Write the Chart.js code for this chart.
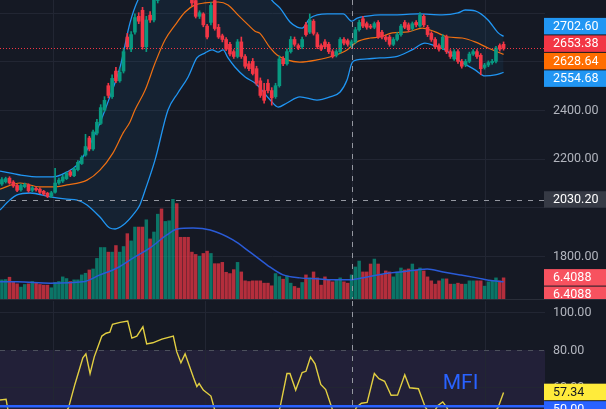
<!DOCTYPE html>
<html><head><meta charset="utf-8">
<script src="https://cdn.jsdelivr.net/npm/chart.js@4.4.0/dist/chart.umd.min.js"></script>
<style>
html,body{margin:0;padding:0;background:#151924;width:606px;height:409px;overflow:hidden}
#c1{position:absolute;left:0;top:0}
#sep{position:absolute;left:0;top:299px;width:606px;height:1px;background:#2a2e39}
#c2{position:absolute;left:0;top:301px}
</style></head><body>
<canvas id="c1" width="606" height="299"></canvas>
<div id="sep"></div>
<canvas id="c2" width="606" height="108"></canvas>
<script>
// ---------- DATA ----------
const opens =[2096,2105,2120,2104,2090,2072,2085,2092,2070,2078,2075,2066,2058,2046,2062,2100,2108,2118,2146,2130,2155,2180,2215,2285,2240,2305,2345,2400,2500,2455,2560,2520,2560,2700,2650,2720,2785,2810,2660,2790,2770,2850,2910,2880,2925,2950,2990,2935,2905,2890,2870,2850,2785,2795,2745,2760,2850,2740,2705,2690,2670,2640,2620,2680,2620,2590,2600,2570,2520,2480,2510,2480,2455,2500,2610,2590,2640,2690,2665,2660,2750,2720,2765,2710,2665,2680,2670,2640,2625,2640,2690,2685,2665,2680,2730,2775,2755,2745,2740,2760,2720,2700,2700,2670,2690,2710,2760,2750,2735,2760,2745,2785,2740,2715,2690,2665,2655,2700,2640,2610,2640,2600,2585,2600,2630,2640,2625,2575,2585,2595,2600,2665,2670];
const highs =[2122,2124,2126,2110,2095,2096,2100,2097,2086,2084,2080,2070,2062,2066,2160,2120,2132,2146,2152,2164,2192,2212,2300,2292,2318,2362,2422,2455,2510,2545,2575,2570,2655,2715,2722,2795,2800,2822,2785,2805,2880,2915,2925,2945,2975,3010,3000,2945,2915,2900,2880,2862,2808,2800,2752,2842,2870,2752,2712,2698,2678,2648,2690,2700,2628,2600,2612,2580,2532,2510,2525,2492,2510,2622,2620,2652,2702,2700,2672,2700,2760,2795,2772,2718,2672,2690,2678,2648,2648,2698,2698,2692,2688,2740,2770,2785,2762,2752,2762,2768,2728,2708,2708,2698,2718,2752,2768,2758,2762,2768,2800,2792,2748,2722,2698,2672,2710,2708,2648,2648,2648,2608,2608,2638,2648,2648,2632,2592,2602,2608,2662,2672,2680];
const lows  =[2090,2100,2095,2082,2064,2066,2080,2062,2064,2066,2056,2050,2040,2040,2058,2094,2102,2114,2126,2126,2150,2176,2210,2232,2234,2298,2340,2394,2450,2448,2512,2514,2552,2650,2640,2712,2755,2650,2640,2760,2762,2840,2870,2872,2915,2940,2920,2890,2870,2860,2828,2778,2776,2742,2692,2750,2728,2694,2680,2644,2622,2612,2614,2612,2572,2562,2544,2502,2452,2428,2470,2420,2448,2494,2582,2584,2634,2662,2648,2652,2704,2714,2708,2652,2644,2652,2632,2614,2618,2634,2668,2662,2658,2674,2724,2738,2732,2734,2734,2694,2692,2682,2662,2664,2684,2704,2734,2722,2728,2742,2740,2742,2702,2682,2652,2642,2648,2632,2612,2604,2592,2572,2578,2594,2624,2612,2545,2568,2578,2588,2594,2642,2646];
const closes=[2114,2118,2100,2088,2070,2090,2094,2068,2080,2072,2062,2055,2045,2060,2100,2112,2125,2140,2132,2158,2185,2205,2250,2240,2310,2350,2410,2440,2460,2530,2520,2555,2640,2660,2710,2780,2765,2660,2770,2770,2865,2900,2880,2930,2960,2990,2930,2900,2880,2870,2840,2785,2800,2750,2700,2830,2735,2700,2690,2650,2630,2620,2680,2620,2580,2570,2550,2510,2460,2440,2480,2450,2500,2610,2590,2640,2690,2670,2655,2690,2710,2770,2715,2660,2650,2660,2640,2620,2640,2690,2675,2670,2680,2730,2760,2745,2740,2740,2755,2700,2700,2690,2670,2690,2710,2745,2740,2730,2755,2750,2790,2750,2710,2690,2660,2650,2700,2640,2620,2640,2600,2580,2600,2630,2640,2620,2570,2585,2595,2600,2655,2650,2653.38];
const volume=[5.8,5.9,6.6,5.3,4.6,3.6,4.4,4.6,5.3,5.0,4.4,4.2,4.2,3.4,5.0,5.3,6.7,6.2,5.3,5.8,5.8,7.3,7.8,8.8,9.1,12.3,15.6,15.6,14.2,14.2,16.2,14.2,15.9,19.8,17.6,21.8,21.8,21.8,24.0,18.2,20.3,25.7,27.3,23.5,23.7,30.2,28.9,18.7,18.7,18.7,14.2,13.5,13.0,13.8,14.5,13.8,10.7,10.7,11.1,8.1,7.7,8.9,11.1,8.2,5.5,5.3,5.5,5.5,5.5,4.8,4.8,4.0,7.7,6.8,6.0,7.0,4.8,3.8,
  3.3,5.0,7.3,6.4,8.2,6.4,4.2,6.7,5.8,5.2,5.8,6.4,5.2,4.8,7.3,9.7,11.5,8.2,8.2,10.6,12.1,10.6,7.3,8.5,8.2,6.7,8.2,9.4,8.8,9.1,10.6,8.8,9.4,8.5,6.7,5.5,4.5,5.5,6.1,6.1,4.5,4.5,4.8,4.5,4.5,5.5,5.5,5.5,5.5,3.9,5.2,5.5,6.4,5.5,6.4088];
// Bollinger bands: [bar index, price]
const upperBand=[[-0.5,2149],[4.8,2133],[10,2125],[13.4,2125],[17.1,2145],[19.8,2174],[22.4,2236],[25.8,2347],[28.4,2454],[31.1,2577],[33.7,2758],[35.8,2852],[40,2950],[45,3010],[50,3040],[55,3045],[60,3030],[65,2990],[68,2930],[71,2852],[73.2,2819],[75.8,2762],[77.7,2741],[79,2737],[81.1,2778],[85.6,2795],[89.8,2795],[92.1,2765],[93.5,2778],[96.1,2786],[99.5,2791],[103.4,2791],[109.5,2795],[115.8,2791],[120,2799],[121.9,2811],[124.5,2807],[127.9,2770],[130.6,2717],[132,2702.6]];
const basisBand=[[-0.5,2075],[4.8,2100],[10,2084],[13.4,2084],[17.1,2092],[22.4,2112],[25.8,2153],[29.2,2223],[31.9,2306],[33.7,2351],[35,2400],[37.7,2482],[40.3,2593],[42.9,2688],[45.6,2750],[48.2,2803],[50.8,2832],[53.4,2840],[56.9,2844],[59.5,2832],[62.1,2791],[64.8,2750],[66.6,2724],[67.9,2715],[70.6,2655],[72.4,2626],[75,2606],[78.4,2597],[82.9,2606],[87.1,2622],[90.8,2647],[93.4,2680],[96.9,2696],[99.5,2700],[102.7,2717],[106.9,2721],[110.6,2737],[114,2721],[117.4,2700],[121.1,2696],[124.5,2680],[127.9,2655],[132,2628.64]];
const lowerBand=[[-0.5,1989],[2.1,2030],[4,2051],[7.4,2059],[12.7,2043],[17.1,2034],[19.8,2030],[22.4,2010],[25.8,1960],[28.4,1915],[29.8,1911],[31.9,1927],[34.5,1969],[36.3,2010],[37.7,2071],[40.3,2195],[43.7,2400],[46.3,2470],[49,2536],[51.3,2614],[53.4,2634],[55.3,2647],[56.9,2638],[58.2,2647],[59.5,2614],[61.3,2577],[64,2536],[66.6,2511],[67.9,2491],[70.6,2441],[72.7,2412],[75,2429],[78.4,2454],[82.9,2441],[86.3,2454],[89,2474],[90.8,2523],[92.1,2593],[93.4,2606],[96.1,2610],[99.5,2614],[103.4,2618],[107.9,2647],[111.3,2675],[113.4,2667],[116.6,2647],[120,2606],[124.5,2565],[127.1,2540],[129.8,2544],[132,2554.68]];
const volumeMA=[[-0.5,5.2],[4,5.2],[12.7,4.8],[21.3,5.2],[25.8,7.3],[30.3,9.4],[34.5,12.4],[39,15.5],[43.4,19.4],[46.1,21.2],[50.3,21.5],[54.8,20.9],[60.8,17.9],[65.3,14.2],[69.8,10.3],[74,7.3],[78.4,6.4],[82.9,6.1],[87.1,5.8],[91.6,5.8],[96.1,6.7],[100.3,7.6],[104.8,8.2],[109.2,8.8],[111.9,9.1],[116.1,8.2],[120.6,7.3],[125,6.4],[129.2,5.5],[132,5.2]];
const mfi=[[-0.5,53.3],[1.1,53.7],[1.6,48],[3,44],[6,40],[9,36],[12,38],[15,43],[17.5,49],[19.2,61.6],[21.3,75.8],[22.1,77.9],[23.2,67.4],[24.3,76.3],[26.3,87.4],[27.4,88.9],[28.4,89.5],[29.1,93.7],[31.1,94.7],[33.1,95.4],[34.2,86.3],[35.5,87.4],[37.1,92.3],[38.1,83.2],[39.7,83.8],[42.1,85.8],[45.1,87.4],[46,79.1],[47.1,73.2],[48.2,77.9],[50.4,65.3],[51.3,60.5],[51.9,62.1],[53,58.6],[55,55.4],[56,48],[58,42],[61,35],[64,31],[67,29],[70,34],[72.5,45],[73.2,49.5],[75,67.4],[75.8,67.4],[77.3,58.6],[79,67.9],[80,68.6],[81.2,76.2],[82.4,72.6],[83.9,61.6],[85.2,58.9],[87,48],[88.5,44],[90.5,42],[92.5,46],[93.3,49.5],[94.6,51.6],[96.1,52],[98,67.4],[99.2,64.7],[100.7,63.3],[102.4,55.8],[104.1,55.9],[106,66.8],[107.3,59.8],[109.6,59.3],[111.4,49.5],[113,45],[114.8,50.5],[116,52.3],[117,49.5],[119,42],[122,36],[125,38],[128,44],[130.5,49],[132,57.34]];
const mfiMid = 50;
const priceTicks=[1800,2000,2200,2400,2600,2800];
const mfiTicks=[60,80,100];
const timeTicks=[13.4,53.4,92.1,127.1];
const lastPrice=2653.38, upperLast=2702.60, basisLast=2628.64, lowerLast=2554.68;
const crossIndex=92.1, crossPrice=2030.20;
const lastVolume=6.4088, lastMfi=57.34, mfiSignal=50.00;
const mfiOverbought=80, mfiOversold=20;

// ---------- STYLE ----------
const UP='#089981', DOWN='#f23645', UPV='rgba(8,153,129,0.72)', DOWNV='rgba(242,54,69,0.72)';
const GRID='#222633', TICK='#b2b5be', FONT='12.5px Roboto';
const XMIN=-0.5, XMAX=142.9;
const isUp=i=>closes[i]>=opens[i];
const idx=opens.map((_,i)=>i);
const pts=a=>a.map(p=>({x:p[0],y:p[1]}));

// overlap handling for axis value labels
function layoutCenter(items,h){
  items.sort((a,b)=>a.y-b.y);
  let groups=items.map(it=>({items:[it]}));
  const c=g=>g.items.reduce((s,it)=>s+it.y,0)/g.items.length;
  let ch=true;
  while(ch){ch=false;
    for(let k=0;k<groups.length-1;k++){const a=groups[k],b=groups[k+1];
      if(c(a)+a.items.length*h/2>c(b)-b.items.length*h/2){groups.splice(k,2,{items:a.items.concat(b.items)});ch=true;break;}}}
  groups.forEach(g=>{const top=c(g)-g.items.length*h/2;g.items.forEach((it,j)=>it.top=top+j*h);});
}
function layoutDown(items,h){
  let prev=-1e9;
  items.forEach(it=>{it.top=Math.max(it.y-h/2,prev);prev=it.top+h;});
}
function drawAxis(chart,scaleId,ticks,groups,hide){
  const {ctx,chartArea:a}=chart; const W=chart.width; const h=17.5;
  const sc=chart.scales; const all=[];
  groups.forEach(g=>{g.boxes.forEach(b=>b.y=sc[b.scale||scaleId].getPixelForValue(b.v));
    (g.mode==='down'?layoutDown:layoutCenter)(g.boxes,h); all.push(...g.boxes);});
  ctx.save();
  ctx.font=FONT; ctx.textBaseline='middle'; ctx.textAlign='left';
  ticks.forEach(t=>{const y=sc[scaleId].getPixelForValue(t);
    if(hide && all.some(b=>y+6>b.top && y-6<b.top+h)) return;
    ctx.fillStyle=TICK; ctx.fillText(t.toFixed(2),a.right+8,y+0.5);});
  all.forEach(b=>{ctx.fillStyle=b.bg; ctx.fillRect(a.right-1,b.top,W-a.right+1,h-1);
    ctx.fillStyle=b.fg||'#ffffff'; ctx.fillText(b.text,a.right+8,b.top+h/2);});
  ctx.restore();
}
function hline(ctx,a,y,color,dash,w){ctx.save();ctx.beginPath();ctx.strokeStyle=color;ctx.lineWidth=w||1;ctx.setLineDash(dash||[]);
  ctx.moveTo(a.left,Math.round(y)+0.5);ctx.lineTo(a.right,Math.round(y)+0.5);ctx.stroke();ctx.restore();}
function vline(ctx,a,x,color,dash){ctx.save();ctx.beginPath();ctx.strokeStyle=color;ctx.lineWidth=1;ctx.setLineDash(dash||[]);
  ctx.moveTo(Math.round(x)+0.5,a.top);ctx.lineTo(Math.round(x)+0.5,a.bottom);ctx.stroke();ctx.restore();}

const mainPlugin={id:'mainDeco',
  beforeDatasetsDraw(chart){const {ctx,chartArea:a,scales:s}=chart;
    priceTicks.forEach(t=>hline(ctx,a,s.y.getPixelForValue(t),GRID));
    timeTicks.forEach(t=>vline(ctx,a,s.x.getPixelForValue(t),GRID));},
  afterDatasetsDraw(chart){const {ctx,chartArea:a,scales:s}=chart;
    hline(ctx,a,s.y.getPixelForValue(lastPrice),'#f23645',[1,2]);
    hline(ctx,a,s.y.getPixelForValue(crossPrice),'#9598a1',[5,6]);
    vline(ctx,a,s.x.getPixelForValue(crossIndex),'#9598a1',[5,6]);},
  afterDraw(chart){
    drawAxis(chart,'y',priceTicks,[
      {mode:'center',boxes:[
        {v:upperLast,text:upperLast.toFixed(2),bg:'#2196f3'},
        {v:lastPrice,text:lastPrice.toFixed(2),bg:'#f23645'},
        {v:basisLast,text:basisLast.toFixed(2),bg:'#ff6d00'},
        {v:lowerLast,text:lowerLast.toFixed(2),bg:'#2196f3'}]},
      {mode:'center',boxes:[{v:crossPrice,text:crossPrice.toFixed(2),bg:'#363a45'}]},
      {mode:'down',boxes:[
        {v:lastVolume,scale:'yv',text:lastVolume.toFixed(4),bg:'#f7525f'},
        {v:lastVolume,scale:'yv',text:lastVolume.toFixed(4),bg:'#f7525f'}]}],true);}
};

new Chart(document.getElementById('c1'),{
  type:'bar',
  data:{datasets:[
    {type:'line',data:pts(upperBand),borderColor:'#2196f3',borderWidth:1.3,pointRadius:0,cubicInterpolationMode:'monotone',fill:'+2',backgroundColor:'rgba(33,150,243,0.07)',yAxisID:'y',order:5},
    {type:'line',data:pts(basisBand),borderColor:'#ff6d00',borderWidth:1.2,pointRadius:0,cubicInterpolationMode:'monotone',fill:false,yAxisID:'y',order:5},
    {type:'line',data:pts(lowerBand),borderColor:'#2196f3',borderWidth:1.3,pointRadius:0,cubicInterpolationMode:'monotone',fill:false,yAxisID:'y',order:5},
    {type:'bar',data:idx.map(i=>({x:i,y:volume[i]})),backgroundColor:c=>isUp(c.dataIndex)?UPV:DOWNV,barThickness:2.8,grouped:false,yAxisID:'yv',order:10},
    {type:'line',data:pts(volumeMA),borderColor:'#2a5bd7',borderWidth:1.5,pointRadius:0,cubicInterpolationMode:'monotone',fill:false,yAxisID:'yv',order:9},
    {type:'bar',data:idx.map(i=>({x:i,y:[lows[i],highs[i]]})),backgroundColor:c=>isUp(c.dataIndex)?UP:DOWN,barThickness:1,grouped:false,yAxisID:'y',order:2},
    {type:'bar',data:idx.map(i=>({x:i,y:[opens[i],closes[i]]})),backgroundColor:c=>isUp(c.dataIndex)?UP:DOWN,barThickness:3,minBarLength:1,grouped:false,yAxisID:'y',order:1}
  ]},
  options:{responsive:false,animation:false,events:[],
    layout:{padding:{left:0,right:61,top:0,bottom:0}},
    plugins:{legend:{display:false},tooltip:{enabled:false}},
    scales:{
      x:{type:'linear',min:XMIN,max:XMAX,display:false,offset:false},
      y:{type:'linear',min:1623.3,max:2852.2,display:false},
      yv:{type:'linear',min:0,max:90.6,display:false}}},
  plugins:[mainPlugin]
});

const mfiPlugin={id:'mfiDeco',
  beforeDatasetsDraw(chart){const {ctx,chartArea:a,scales:s}=chart;
    const y1=s.y.getPixelForValue(mfiOverbought), y2=Math.min(a.bottom,s.y.getPixelForValue(mfiOversold));
    ctx.save();ctx.fillStyle='rgba(126,87,194,0.13)';ctx.fillRect(a.left,y1,a.right-a.left,y2-y1);ctx.restore();
    [100,60].forEach(t=>hline(ctx,a,s.y.getPixelForValue(t),GRID));
    timeTicks.forEach(t=>vline(ctx,a,s.x.getPixelForValue(t),GRID));
    hline(ctx,a,y1,'#4c505c',[5,6]);},
  afterDatasetsDraw(chart){const {ctx,chartArea:a,scales:s}=chart;
    vline(ctx,a,s.x.getPixelForValue(crossIndex),'#9598a1',[5,6]);
    ctx.save();ctx.font='21px Roboto';ctx.fillStyle='#2962ff';ctx.textBaseline='alphabetic';
    ctx.fillText('MFI',s.x.getPixelForValue(116),s.y.getPixelForValue(59));ctx.restore();},
  afterDraw(chart){
    drawAxis(chart,'y',mfiTicks,[{mode:'down',boxes:[
      {v:lastMfi,text:lastMfi.toFixed(2),bg:'#ffeb3b',fg:'#131722'},
      {v:mfiSignal,text:mfiSignal.toFixed(2),bg:'#2962ff'}]}],false);}
};
new Chart(document.getElementById('c2'),{
  type:'line',
  data:{datasets:[
    {data:[{x:XMIN,y:mfiSignal},{x:XMAX,y:mfiSignal}],borderColor:'#2962ff',borderWidth:2.5,pointRadius:0,fill:false},
    {data:pts(mfi),borderColor:'#e2cf42',borderWidth:1.4,pointRadius:0,tension:0,fill:false}
  ]},
  options:{responsive:false,animation:false,events:[],
    layout:{padding:{left:0,right:61,top:0,bottom:0}},
    plugins:{legend:{display:false},tooltip:{enabled:false}},
    scales:{x:{type:'linear',min:XMIN,max:XMAX,display:false},
      y:{type:'linear',min:48.5,max:106.1,display:false}}},
  plugins:[mfiPlugin]
});
</script></body></html>
